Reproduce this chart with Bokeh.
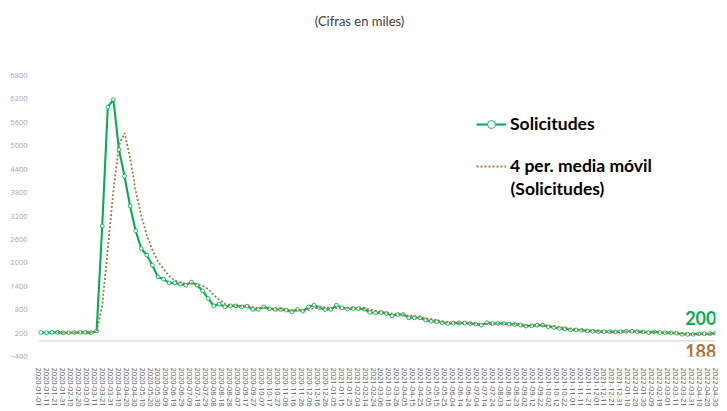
import pandas as pd
from bokeh.plotting import figure
from bokeh.models import (Range1d, FixedTicker, DatetimeTickFormatter, Span, Label,
                          Legend, LegendItem, ColumnDataSource)
from bokeh.embed import file_html
from bokeh.resources import INLINE

# ---- data (thousands), weekly, week ending Saturday ----
first_week = "2020-01-04"
solicitudes = [
    214, 207, 221, 218, 207, 209, 214, 220, 217, 211, 256,
    2945, 5988, 6185, 4906, 4223, 3456, 2817, 2366, 2195, 1939,
    1640, 1581, 1486, 1486, 1453, 1428, 1504, 1428, 1282, 1087,
    898, 942, 873, 898, 898, 873, 890, 806, 806, 873, 822,
    805, 805, 788, 745, 805, 762, 873, 916, 848, 805,
    805, 916, 848, 814, 830, 830, 814, 728, 720, 728,
    703, 643, 677, 677, 592, 592, 592, 532, 507, 490,
    464, 447, 456, 464, 456, 447, 430, 404, 464, 447,
    447, 447, 430, 422, 404, 379, 387, 404, 404, 362,
    345, 319, 311, 280, 280, 272, 255, 247, 238, 238,
    238, 230, 238, 246, 246, 238, 230, 213, 230, 213,
    210, 205, 195, 170, 168, 170, 185, 182, 185, 200,
]
ma_window = 4
y_ticks = [-400, 200, 800, 1400, 2000, 2600, 3200, 3800, 4400, 5000, 5600, 6200, 6800]
x_start = "2020-01-01"
x_end = "2022-04-30"
tick_step = "10D"

title_text = "(Cifras en miles)"
label_series = "Solicitudes"
label_ma_1 = "4 per. media móvil"
label_ma_2 = "(Solicitudes)"

GREEN = "#00B050"
BROWN = "#A8773F"

dates = pd.date_range(first_week, periods=len(solicitudes), freq="7D")
ma = pd.Series(solicitudes).rolling(ma_window).mean()
src = ColumnDataSource(dict(x=dates, y=solicitudes))
src_ma = ColumnDataSource(dict(x=dates[ma_window - 1:], y=ma.values[ma_window - 1:]))

tick_dates = pd.date_range(x_start, x_end, freq=tick_step)
tick_ms = [int(d.timestamp() * 1000) for d in tick_dates]

# frame: top at canvas 0 (headroom above 6800 holds the title), bottom at 356
FRAME_H = 356
units_per_px = (y_ticks[-1] - y_ticks[0]) / 281.0
y_top = y_ticks[0] + FRAME_H * units_per_px

p = figure(width=727, height=411, x_axis_type="datetime",
           output_backend="svg", toolbar_location=None,
           x_range=Range1d(pd.Timestamp(x_start), pd.Timestamp(x_end)),
           y_range=Range1d(y_ticks[0], y_top),
           min_border_left=38, min_border_right=12, min_border_top=0, min_border_bottom=55)
p.outline_line_color = None
p.background_fill_color = "white"
p.border_fill_color = "white"
p.xgrid.visible = False
p.ygrid.visible = False

# zero line
p.add_layout(Span(location=0, dimension="width", line_color="#D9D9D9", line_width=1.2))

line_r = p.line("x", "y", source=src, line_color=GREEN, line_width=2.1)
circ_r = p.scatter("x", "y", source=src, marker="circle", size=3.8,
                   fill_color="white", line_color=GREEN, line_width=0.9)
ma_r = p.line("x", "y", source=src_ma, line_color=BROWN, line_width=1.8, line_dash="2 2")

# axes
xa = p.xaxis[0]
xa.ticker = FixedTicker(ticks=tick_ms)
fmt = "%Y-%m-%d"
xa.formatter = DatetimeTickFormatter(milliseconds=fmt, seconds=fmt, minsec=fmt, minutes=fmt,
                                     hourmin=fmt, hours=fmt, days=fmt, months=fmt, years=fmt,
                                     context=None)
xa.major_label_orientation = "vertical"
xa.major_label_text_font = "Open Sans"
xa.major_label_text_font_size = "7.5px"
xa.major_label_text_color = "#595959"
xa.major_label_standoff = 5
xa.axis_line_color = None
xa.major_tick_line_color = None
xa.minor_tick_line_color = None

ya = p.yaxis[0]
ya.ticker = FixedTicker(ticks=y_ticks)
ya.major_label_text_font = "Open Sans"
ya.major_label_text_font_size = "7.5px"
ya.major_label_text_color = "#A6A6A6"
ya.major_label_standoff = 5
ya.axis_line_color = None
ya.major_tick_line_color = None
ya.minor_tick_line_color = None

# title
p.add_layout(Label(x=321, y=336, x_units="screen", y_units="screen", text=title_text,
                   text_align="center", text_baseline="middle", text_font="Lato",
                   text_font_size="13px", text_color="#404040"))

# legends
def make_legend(items, loc):
    lg = Legend(items=items, location=loc, orientation="vertical")
    lg.background_fill_alpha = 0
    lg.border_line_color = None
    lg.padding = 0
    lg.margin = 0
    lg.glyph_width = 30
    lg.glyph_height = 20
    lg.label_height = 20
    lg.label_standoff = 4
    lg.label_text_font = "Lato"
    lg.label_text_font_style = "bold"
    lg.label_text_font_size = "17.5px"
    lg.label_text_color = "#000000"
    return lg

p.add_layout(make_legend([LegendItem(label=label_series, renderers=[line_r, circ_r])], (438, 222)))
p.add_layout(make_legend([LegendItem(label=label_ma_1, renderers=[ma_r])], (438, 180)))
p.add_layout(Label(x=472, y=168, x_units="screen", y_units="screen", text=label_ma_2,
                   text_align="left", text_baseline="middle", text_font="Lato",
                   text_font_style="bold", text_font_size="17.5px", text_color="#000000"))

# end labels
last_x = dates[-1]
p.add_layout(Label(x=last_x, y=solicitudes[-1], text=str(int(round(solicitudes[-1]))),
                   x_offset=1, y_offset=8, text_align="right", text_baseline="bottom",
                   text_font="Lato", text_font_style="bold", text_font_size="18px",
                   text_color=GREEN))
p.add_layout(Label(x=last_x, y=float(ma.values[-1]), text=str(int(round(ma.values[-1]))),
                   x_offset=1, y_offset=-10, text_align="right", text_baseline="top",
                   text_font="Lato", text_font_style="bold", text_font_size="18px",
                   text_color=BROWN))

open("out.html", "w").write(file_html(p, INLINE))
